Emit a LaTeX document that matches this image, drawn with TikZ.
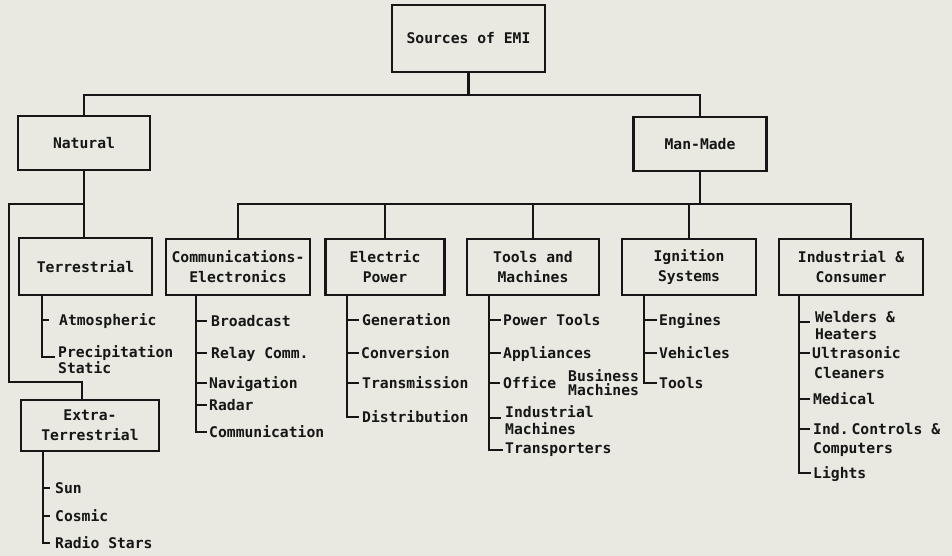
\documentclass[tikz,border=0pt]{standalone}
\usepackage{fontspec}
\newfontfamily\diagfont{DejaVu Sans Mono}
\usetikzlibrary{calc}
\definecolor{bg}{RGB}{233,233,226}
\definecolor{ink}{RGB}{22,22,22}
\begin{document}
\begin{tikzpicture}[x=1pt,y=-1pt,
  every node/.style={font=\diagfont\bfseries\fontsize{14.7}{20}\selectfont, text=ink},
  box/.style={draw=ink, line width=2.2pt, fill=bg, align=center, inner sep=0pt},
  item/.style={anchor=west, inner sep=0pt, text height=10.7pt, text depth=0pt},
  wire/.style={draw=ink, line width=2.2pt}]
\fill[bg] (0,0) rectangle (952,556);

% ---------- boxes ----------
\node[box, minimum width=153pt, minimum height=67pt] (src) at (468.5,38.5) {Sources of EMI};
\node[box, minimum width=132pt, minimum height=54pt] (nat) at (84,143) {Natural};
\node[box, minimum width=133pt, minimum height=54pt] (man) at (700,144) {Man-Made};
\node[box, minimum width=133pt, minimum height=57pt] (ter) at (85.5,266.5) {Terrestrial};
\node[box, minimum width=138pt, minimum height=51pt] (ext) at (90,425.5) {Extra-\\Terrestrial};
\node[box, minimum width=144pt, minimum height=56pt] (com) at (238,267) {Communications-\\Electronics};
\node[box, minimum width=119pt, minimum height=56pt] (ele) at (385,267) {Electric\\Power};
\node[box, minimum width=132pt, minimum height=56pt] (too) at (533,267) {Tools and\\Machines};
\node[box, minimum width=134pt, minimum height=56pt] (ign) at (689,267) {Ignition\\Systems};
\node[box, minimum width=144pt, minimum height=56pt] (ind) at (851,267) {Industrial \&\\Consumer};

% ---------- top level connectors ----------
\coordinate (b1) at (468.5,95);
\draw[wire] (src.south) -- (b1);
\draw[wire] (nat.north) |- (b1) -| (man.north);

% natural branch
\coordinate (b2) at (84,204);
\coordinate (nl1) at (9,204);
\coordinate (nl2) at (9,382);
\coordinate (nl3) at (82,382);
\draw[wire] (nat.south) -- (nat.south |- ter.north);
\draw[wire] (b2) -- (nl1) -- (nl2) -- (nl3) -- (nl3 |- ext.north);

% man-made branch
\coordinate (b3) at (700,204);
\draw[wire] (man.south) -- (b3);
\draw[wire] (com.north) |- (ind.north |- b3) -- (ind.north);
\draw[wire] (ele.north) -- (ele.north |- b3);
\draw[wire] (too.north) -- (too.north |- b3);
\draw[wire] (ign.north) -- (ign.north |- b3);

% ---------- Terrestrial list ----------
\coordinate (tx) at (42,0);
\node[item] (t1) at (59,320) {Atmospheric};
\node[item] (t2) at (58,352) {Precipitation};
\node[item] (t3) at (58,368) {Static};
\draw[wire] (t1.west -| tx) -- ([xshift=-10pt]t1.west);
\draw[wire] (ter.south -| tx) |- ([xshift=-3pt,yshift=-5pt]t2.west);

% ---------- Extra-Terrestrial list ----------
\coordinate (ex) at (43,0);
\node[item] (e1) at (55,488) {Sun};
\node[item] (e2) at (55,516) {Cosmic};
\node[item] (e3) at (55,543) {Radio Stars};
\draw[wire] (e1.west -| ex) -- ([xshift=-5pt]e1.west);
\draw[wire] (e2.west -| ex) -- ([xshift=-5pt]e2.west);
\draw[wire] (ext.south -| ex) |- ([xshift=-5pt]e3.west);

% ---------- Communications list ----------
\coordinate (cx) at (196,0);
\node[item] (c1) at (211,321) {Broadcast};
\node[item] (c2) at (211,353) {Relay Comm.};
\node[item] (c3) at (209,383) {Navigation};
\node[item] (c4) at (209,405) {Radar};
\node[item] (c5) at (209,432) {Communication};
\draw[wire] (c1.west -| cx) -- ([xshift=-4pt]c1.west);
\draw[wire] (c2.west -| cx) -- ([xshift=-4pt]c2.west);
\draw[wire] (c3.west -| cx) -- ([xshift=-2pt]c3.west);
\draw[wire] (c4.west -| cx) -- ([xshift=-2pt]c4.west);
\draw[wire] (com.south -| cx) |- ([xshift=-2pt]c5.west);

% ---------- Electric Power list ----------
\coordinate (px) at (347,0);
\node[item] (p1) at (362,320) {Generation};
\node[item] (p2) at (361,353) {Conversion};
\node[item] (p3) at (362,383) {Transmission};
\node[item] (p4) at (362,417) {Distribution};
\draw[wire] (p1.west -| px) -- ([xshift=-3pt]p1.west);
\draw[wire] (p2.west -| px) -- ([xshift=-2pt]p2.west);
\draw[wire] (p3.west -| px) -- ([xshift=-3pt]p3.west);
\draw[wire] (ele.south -| px) |- ([xshift=-3pt]p4.west);

% ---------- Tools and Machines list ----------
\coordinate (mx) at (489,0);
\node[item] (m1) at (503,320) {Power Tools};
\node[item] (m2) at (503,353) {Appliances};
\node[item] (m3) at (503,383) {Office};
\node[item] (m3a) at (568,376) {Business};
\node[item] (m3b) at (568,390) {Machines};
\node[item] (m4) at (505,412) {Industrial};
\node[item] (m4a) at (505,429) {Machines};
\node[item] (m5) at (505,448) {Transporters};
\draw[wire] (m1.west -| mx) -- ([xshift=-2pt]m1.west);
\draw[wire] (m2.west -| mx) -- ([xshift=-2pt]m2.west);
\draw[wire] (m3.west -| mx) -- ([xshift=-3pt]m3.west);
\draw[wire] ([yshift=-6pt]m4.west -| mx) -- ([xshift=-4pt,yshift=-6pt]m4.west);
\draw[wire] (too.south -| mx) |- ([xshift=-2pt,yshift=-2pt]m5.west);

% ---------- Ignition Systems list ----------
\coordinate (gx) at (644,0);
\node[item] (g1) at (659,320) {Engines};
\node[item] (g2) at (659,353) {Vehicles};
\node[item] (g3) at (659,383) {Tools};
\draw[wire] (g1.west -| gx) -- ([xshift=-2pt]g1.west);
\draw[wire] (g2.west -| gx) -- ([xshift=-2pt]g2.west);
\draw[wire] (ign.south -| gx) |- ([xshift=-2pt]g3.west);

% ---------- Industrial & Consumer list ----------
\coordinate (ix) at (799,0);
\node[item] (i1) at (815,317) {Welders \&};
\node[item] (i1a) at (815,334) {Heaters};
\node[item] (i2) at (812,353) {Ultrasonic};
\node[item] (i2a) at (814,373) {Cleaners};
\node[item] (i3) at (813,399) {Medical};
\node[item] (i4) at (813,429) {Ind.\hspace{3pt}Controls \&};
\node[item] (i4a) at (813,448) {Computers};
\node[item] (i5) at (813,473) {Lights};
\draw[wire] ([yshift=-5pt]i1.west -| ix) -- ([xshift=-5pt,yshift=-5pt]i1.west);
\draw[wire] (i2.west -| ix) -- ([xshift=-2pt]i2.west);
\draw[wire] (i3.west -| ix) -- ([xshift=-3pt]i3.west);
\draw[wire] (i4.west -| ix) -- ([xshift=-3pt]i4.west);
\draw[wire] (ind.south -| ix) |- ([xshift=-2pt]i5.west);
\end{tikzpicture}
\end{document}
